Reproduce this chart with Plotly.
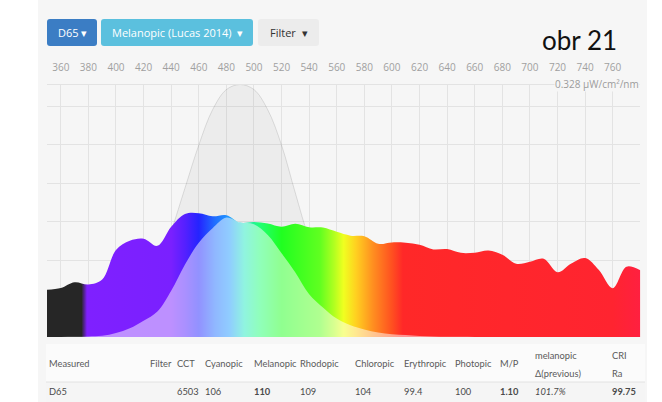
import plotly.graph_objects as go

# ---------------------------------------------------------------
# Data
# ---------------------------------------------------------------
wavelength = [350, 360, 370, 380, 390, 400, 410, 420, 430, 440, 450, 460,
              470, 480, 490, 500, 510, 520, 530, 540, 550, 560, 570, 580,
              590, 600, 610, 620, 630, 640, 650, 660, 670, 680, 690, 700,
              710, 720, 730, 740, 750, 760, 770, 780]

# D65 spectral irradiance, µW/cm²/nm
d65_spd = [0.0613, 0.0637, 0.0712, 0.0683, 0.0747, 0.1130, 0.1250, 0.1276,
           0.1184, 0.1432, 0.1598, 0.1609, 0.1569, 0.1583, 0.1486, 0.1494,
           0.1473, 0.1431, 0.1471, 0.1426, 0.1421, 0.1366, 0.1316, 0.1308,
           0.1211, 0.1229, 0.1224, 0.1198, 0.1138, 0.1143, 0.1093, 0.1096,
           0.1124, 0.1069, 0.0952, 0.0978, 0.1016, 0.0841, 0.0955, 0.1026,
           0.0869, 0.0634, 0.0913, 0.0866]

# Melanopic (Lucas 2014) relative sensitivity
melanopic = [0.000, 0.002, 0.005, 0.010, 0.020, 0.045, 0.090, 0.165, 0.280,
             0.420, 0.590, 0.760, 0.900, 0.980, 1.000, 0.980, 0.900, 0.760,
             0.570, 0.390, 0.270, 0.175, 0.115, 0.075, 0.048, 0.030, 0.020,
             0.012, 0.007, 0.004, 0.002, 0.001, 0.000, 0.000, 0.000, 0.000,
             0.000, 0.000, 0.000, 0.000, 0.000, 0.000, 0.000, 0.000]

y_max = 0.328
x_ticks = list(range(360, 761, 20))

buttons = ["D65 ▾", "Melanopic (Lucas 2014)  ▾", "Filter  ▾"]
caption = "obr 21"

table_headers = ["Measured", "Filter", "CCT", "Cyanopic", "Melanopic",
                 "Rhodopic", "Chloropic", "Erythropic", "Photopic", "M/P",
                 ["melanopic", "Δ(previous)"], ["CRI", "Ra"]]
table_values = ["D65", "", "6503", "106", "<b>110</b>", "109", "104", "99.4",
                "100", "<b>1.10</b>", "<i>101.7%</i>", "<b>99.75</b>"]

# ---------------------------------------------------------------
# Layout helpers (pixel -> paper coordinates)
# ---------------------------------------------------------------
W, H = 662, 402


def px(x):
    return x / W


def py(y):
    return 1 - y / H


def rounded_rect(x0, y0, x1, y1, r=3):
    a, b, c, d = px(x0), py(y0), px(x1), py(y1)
    rx, ry = r / W, r / H
    return (f"M {a+rx},{b} L {c-rx},{b} Q {c},{b} {c},{b-ry} "
            f"L {c},{d+ry} Q {c},{d} {c-rx},{d} L {a+rx},{d} "
            f"Q {a},{d} {a},{d+ry} L {a},{b-ry} Q {a},{b} {a+rx},{b} Z")


panel = "#f6f6f6"
grid = "#e3e3e3"
font = "Open Sans"
table_font = "Lato"

# wavelength -> display colour for the spectrum fill
spectrum_scale = [
    [0.0000, "#262626"], [0.0581, "#262626"], [0.0674, "#7f20ff"],
    [0.2093, "#7a20ff"], [0.2326, "#5520ff"], [0.2558, "#2424ff"],
    [0.2837, "#2070ff"], [0.3070, "#2098ff"], [0.3326, "#20e8c0"],
    [0.3605, "#20ff70"], [0.3953, "#20ff20"], [0.4600, "#60ff20"],
    [0.4837, "#b0ff20"], [0.5000, "#f0ff20"], [0.5209, "#ffd020"],
    [0.5488, "#ff9020"], [0.5814, "#ff5020"], [0.6000, "#ff2828"],
    [0.9535, "#ff2430"], [1.0000, "#ff2040"],
]

weighted = [s * m for s, m in zip(d65_spd, melanopic)]
mel_curve = [m * y_max for m in melanopic]

fig = go.Figure()

# melanopic action spectrum (grey bell)
fig.add_trace(go.Scatter(
    x=wavelength, y=mel_curve, mode="lines", fill="tozeroy",
    line=dict(color="rgba(0,0,0,0.11)", width=1, shape="spline"),
    fillcolor="rgba(0,0,0,0.04)", hoverinfo="skip", showlegend=False))

# measured spectrum, coloured by wavelength
fig.add_trace(go.Scatter(
    x=wavelength, y=d65_spd, mode="lines", fill="tozeroy",
    line=dict(color="rgba(0,0,0,0)", width=0, shape="spline"),
    fillgradient=dict(type="horizontal", start=350, stop=780,
                      colorscale=spectrum_scale),
    hoverinfo="skip", showlegend=False))

# melanopic-weighted spectrum (pale overlay)
fig.add_trace(go.Scatter(
    x=wavelength, y=weighted, mode="lines", fill="tozeroy",
    line=dict(color="rgba(0,0,0,0)", width=0, shape="spline"),
    fillcolor="rgba(255,255,255,0.5)", hoverinfo="skip", showlegend=False))

shapes = [
    dict(type="rect", xref="paper", yref="paper", x0=px(38), x1=px(647),
         y0=0, y1=1, fillcolor=panel, line=dict(width=0), layer="below"),
    # table body
    dict(type="rect", xref="paper", yref="paper", x0=px(46), x1=px(645),
         y0=py(402), y1=py(344), fillcolor="#fbfbfb", line=dict(width=0),
         layer="below"),
    dict(type="rect", xref="paper", yref="paper", x0=px(46), x1=px(645),
         y0=py(402), y1=py(382), fillcolor="#f5f5f5", line=dict(width=0),
         layer="below"),
    dict(type="line", xref="paper", yref="paper", x0=px(46), x1=px(645),
         y0=py(382), y1=py(382), line=dict(color="#e2e2e2", width=1)),
]

# buttons
btn_boxes = [(47, 19, 97, 46, "#3b7dc4", "white"),
             (101, 19, 253, 46, "#5bc0de", "white"),
             (258, 19, 319, 46, "#ececec", "#333333")]
annotations = []
for label, (x0, y0, x1, y1, bg, fg) in zip(buttons, btn_boxes):
    shapes.append(dict(type="path", xref="paper", yref="paper",
                       path=rounded_rect(x0, y0, x1, y1), fillcolor=bg,
                       line=dict(width=0)))
    annotations.append(dict(x=px((x0 + x1) / 2), y=py((y0 + y1) / 2),
                            xref="paper", yref="paper", text=label,
                            showarrow=False, xanchor="center",
                            yanchor="middle",
                            font=dict(family=font, size=11, color=fg)))

annotations.append(dict(x=px(579), y=py(40), xref="paper", yref="paper",
                        text=caption, showarrow=False, xanchor="center",
                        yanchor="middle",
                        font=dict(family="Lato", size=26, color="#111111")))

annotations.append(dict(x=px(640), y=py(83.5), xref="paper", yref="paper",
                        text="0.328 μW/cm²/nm", showarrow=False,
                        xanchor="right", yanchor="middle", bgcolor=panel,
                        borderpad=0,
                        font=dict(family=font, size=10, color="#9c9c9c")))

col_x = [46.7, 148, 175, 202.7, 251.7, 298.3, 353.3, 401.7, 453.3, 498.3,
         533.3, 610]
for cx, head, val in zip(col_x, table_headers, table_values):
    lines = head if isinstance(head, list) else [head]
    ys = [355, 373] if len(lines) == 2 else [363]
    for t, yy in zip(lines, ys):
        annotations.append(dict(x=px(cx), y=py(yy), xref="paper",
                                yref="paper", text=t, showarrow=False,
                                xanchor="left", yanchor="middle",
                                font=dict(family=table_font, size=9.3,
                                          color="#5a5a5a")))
    if val:
        annotations.append(dict(x=px(cx), y=py(391.7), xref="paper",
                                yref="paper", text=val, showarrow=False,
                                xanchor="left", yanchor="middle",
                                font=dict(family=table_font, size=9.3,
                                          color="#4a4a4a")))

fig.update_layout(
    width=W, height=H, margin=dict(l=0, r=0, t=0, b=0),
    paper_bgcolor="white", plot_bgcolor=panel,
    shapes=shapes, annotations=annotations,
    xaxis=dict(range=[350, 780], domain=[px(47), px(640.3)], side="top",
               tickvals=x_ticks, ticks="", ticklabelstandoff=9,
               tickfont=dict(family=font, size=10, color="#a0a0a0"),
               showgrid=True, gridcolor=grid, gridwidth=1,
               showline=True, linecolor=grid, linewidth=1,
               zeroline=False, fixedrange=True),
    yaxis=dict(range=[0, y_max], domain=[py(337), py(84.5)], dtick=0.05,
               showticklabels=False, showgrid=True, gridcolor=grid,
               zeroline=False, showline=False, ticks="", fixedrange=True),
)

fig.write_html("out.html")
